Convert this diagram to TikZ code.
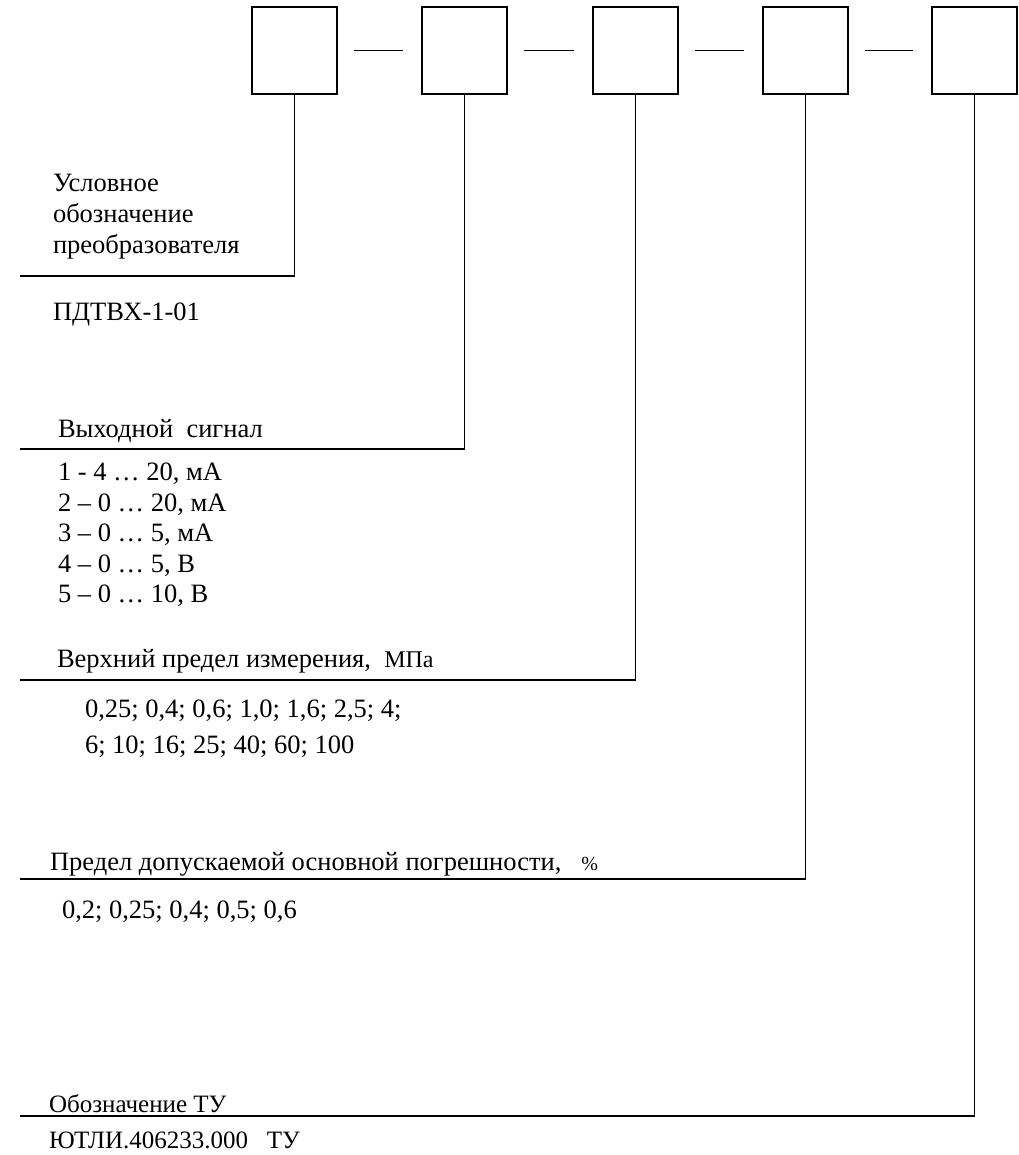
\documentclass[tikz,border=0pt]{standalone}
\usepackage{fontspec}
\setmainfont{Liberation Serif}
\begin{document}
\begin{tikzpicture}[x=1pt,y=-1pt,
  box/.style={draw,line width=2pt,minimum width=85pt,minimum height=87pt,inner sep=0pt,outer sep=0pt},
  lead/.style={line width=1.5pt},
  dashline/.style={line width=1.5pt,shorten <=17pt,shorten >=19pt},
  lbl/.style={anchor=base west,inner sep=0pt,outer sep=0pt,font=\fontsize{26.5}{31}\selectfont},
  lbls/.style={lbl,font=\fontsize{25}{30}\selectfont}]
\useasboundingbox (0,0) rectangle (1018,1155);
% boxes
\node[box] (b1) at (294.5,50.5) {};
\node[box] (b2) at (464.5,50.5) {};
\node[box] (b3) at (635.5,50.5) {};
\node[box] (b4) at (805.5,50.5) {};
\node[box] (b5) at (974.5,50.5) {};
\draw[dashline] (b1.east) -- (b2.west);
\draw[dashline] (b2.east) -- (b3.west);
\draw[dashline] (b3.east) -- (b4.west);
\draw[dashline] (b4.east) -- (b5.west);
% leader lines
\coordinate (e1) at (20,276);
\coordinate (e2) at (20,449);
\coordinate (e3) at (20,680);
\coordinate (e4) at (20,879);
\coordinate (e5) at (20,1116);
\draw[lead] (b1.south) |- (e1);
\draw[lead] (b2.south) |- (e2);
\draw[lead] (b3.south) |- (e3);
\draw[lead] (b4.south) |- (e4);
\draw[lead] (b5.south) |- (e5);
% texts
\node[lbl] (t1a) at (53,192) {Условное};
\node[lbl] (t1b) at (53,223) {обозначение};
\node[lbl] (t1c) at (53,254) {преобразователя};
\node[lbl] (t2) at (53,320) {ПДТВХ-1-01};
\node[lbl] (t3) at (58,437) {Выходной\ \ сигнал};
\node[lbl] (s1) at (58,480) {1 - 4 … 20, мА};
\node[lbl] (s2) at (58,511) {2 – 0 … 20, мА};
\node[lbl] (s3) at (58,541) {3 – 0 … 5, мА};
\node[lbl] (s4) at (58,572) {4 – 0 … 5, В};
\node[lbl] (s5) at (58,602) {5 – 0 … 10, В};
\node[lbl] (t5) at (57,667) {Верхний предел измерения,\ \ {\fontsize{24}{28}\selectfont МПа}};
\node[lbl] (r1) at (85,717) {0,25; 0,4; 0,6; 1,0; 1,6; 2,5; 4;};
\node[lbl] (r2) at (85,753) {6; 10; 16; 25; 40; 60; 100};
\node[lbl] (t7) at (50,870) {Предел допускаемой основной погрешности,\ \ \ {\fontsize{20}{24}\selectfont \%}};
\node[lbl] (p1) at (62,918) {0,2; 0,25; 0,4; 0,5; 0,6};
\node[lbls] (t9) at (49,1112) {Обозначение ТУ};
\node[lbls] (t10) at (49,1148) {ЮТЛИ.406233.000\ \ \ ТУ};
\end{tikzpicture}
\end{document}
